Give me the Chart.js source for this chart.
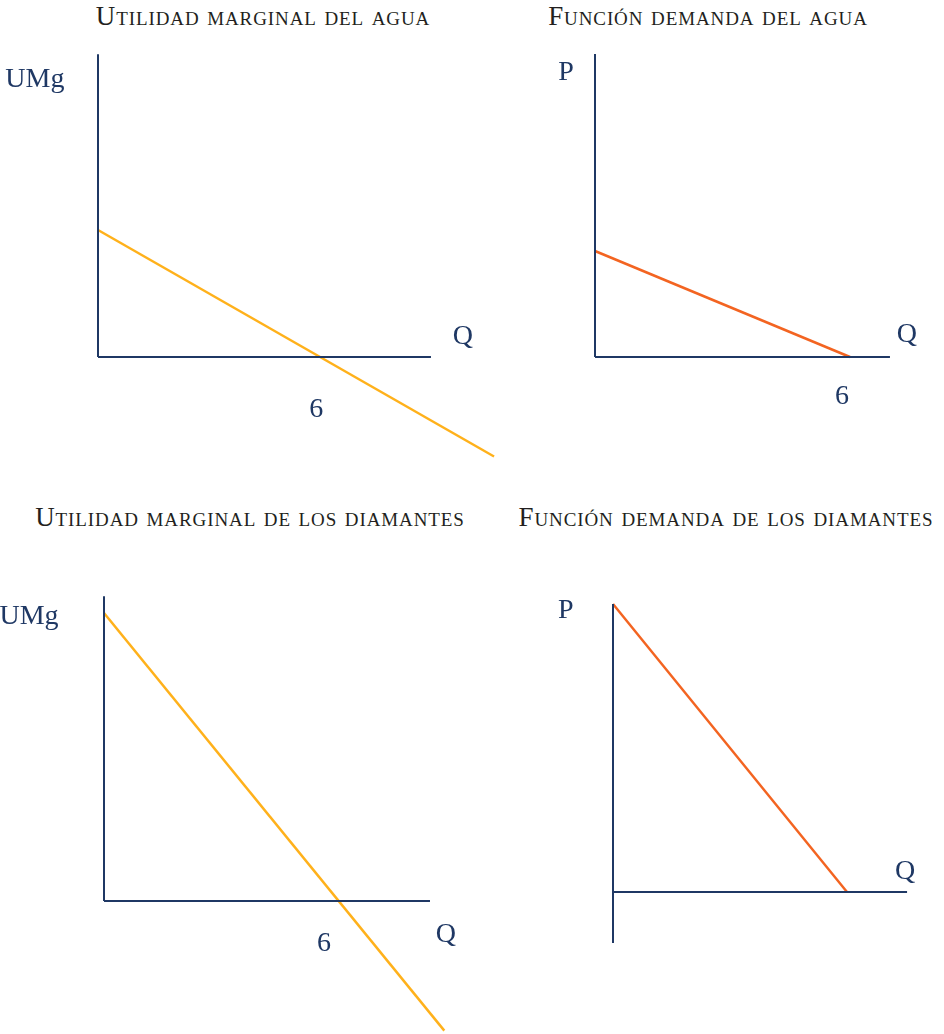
<!DOCTYPE html>
<html>
<head>
<meta charset="utf-8">
<script src="https://cdn.jsdelivr.net/npm/chart.js@4"></script>
<style>
  body { margin: 0; background: #fff; }
  #page { position: relative; width: 944px; height: 1034px; overflow: hidden; }
  canvas { position: absolute; }
  .titulo {
    position: absolute; white-space: nowrap; transform: translateX(-50%);
    font-family: "Liberation Serif", serif; font-size: 27px; line-height: 27px;
    font-variant: small-caps; letter-spacing: 0.9px; color: #231f20;
  }
</style>
</head>
<body>
<div id="page">
  <div class="titulo" style="left:263px; top:3px">Utilidad marginal del agua</div>
  <div class="titulo" style="left:708px; top:3px">Función demanda del agua</div>
  <div class="titulo" style="left:250px; top:504px">Utilidad marginal de los diamantes</div>
  <div class="titulo" style="left:726px; top:504px">Función demanda de los diamantes</div>
  <canvas id="umgAgua" width="500" height="430" style="left:0px; top:40px"></canvas>
  <canvas id="demAgua" width="444" height="420" style="left:500px; top:40px"></canvas>
  <canvas id="umgDiam" width="480" height="474" style="left:0px; top:560px"></canvas>
  <canvas id="demDiam" width="464" height="420" style="left:480px; top:560px"></canvas>
</div>
<script>
// utilidad marginal del agua
const qAgua = [0, 10.8];
const umgAgua = [6, -4.7];
// funcion demanda del agua
const qDemAgua = [0, 6];
const pAgua = [6, 0];
// utilidad marginal de los diamantes
const qDiam = [0, 8.8];
const umgDiam = [24, -10.8];
// funcion demanda de los diamantes
const qDemDiam = [0, 6];
const pDiam = [24, 0];

// axis extents: [xEnd, yTop, yBottom]
const ejesAgua = [9.08, 14.3, 0];
const ejesDemAgua = [6.94, 17.15, 0];
const ejesDiam = [8.43, 25.4, 0];
const ejesDemDiam = [7.54, 24, -4.25];

const navy = "#1f3864";
const amarillo = "#ffb11b";
const naranja = "#f36421";

// text labels drawn at data coordinates
const etiquetas = {
  id: 'etiquetas',
  afterDatasetsDraw(chart, args, opts) {
    const ctx = chart.ctx;
    ctx.save();
    ctx.fillStyle = navy;
    ctx.font = "28px 'Liberation Serif', serif";
    ctx.textAlign = 'center';
    ctx.textBaseline = 'middle';
    (opts.items || []).forEach(l => {
      ctx.fillText(l.text, chart.scales.x.getPixelForValue(l.x), chart.scales.y.getPixelForValue(l.y));
    });
    ctx.restore();
  }
};

function panel(id, box, origin, unit, qs, vs, color, ejes, labels) {
  const [l, t, w, h] = box;
  const pts = qs.map((q, i) => ({x: q, y: vs[i]}));
  new Chart(document.getElementById(id), {
    type: 'scatter',
    data: {
      datasets: [{
        data: [{x: 0, y: ejes[2]}, {x: 0, y: ejes[1]}],
        borderColor: navy, borderWidth: 2, showLine: true, pointRadius: 0
      }, {
        data: [{x: 0, y: 0}, {x: ejes[0], y: 0}],
        borderColor: navy, borderWidth: 2, showLine: true, pointRadius: 0
      }, {
        data: pts,
        borderColor: color, borderWidth: 2.5, showLine: true, pointRadius: 0
      }]
    },
    options: {
      responsive: false,
      animation: false,
      layout: { padding: 0 },
      scales: {
        x: { type: 'linear', display: false, min: (l - origin[0]) / unit[0], max: (l + w - origin[0]) / unit[0] },
        y: { type: 'linear', display: false, min: (origin[1] - t - h) / unit[1], max: (origin[1] - t) / unit[1] }
      },
      plugins: {
        legend: { display: false },
        tooltip: { enabled: false },
        etiquetas: { items: labels }
      }
    },
    plugins: [etiquetas]
  });
}

panel('umgAgua', [0, 40, 500, 430], [98, 357], [36.67, 21.17], qAgua, umgAgua, amarillo, ejesAgua,
  [{text: 'UMg', x: -1.72, y: 13.08}, {text: 'Q', x: 9.95, y: 0.94}, {text: '6', x: 5.95, y: -2.5}]);
panel('demAgua', [500, 40, 444, 420], [595, 357], [42.5, 17.67], qDemAgua, pAgua, naranja, ejesDemAgua,
  [{text: 'P', x: -0.68, y: 16.07}, {text: 'Q', x: 7.34, y: 1.25}, {text: '6', x: 5.81, y: -2.26}]);
panel('umgDiam', [0, 560, 480, 474], [104, 901], [38.67, 12], qDiam, umgDiam, amarillo, ejesDiam,
  [{text: 'UMg', x: -1.94, y: 23.67}, {text: 'Q', x: 8.84, y: -2.83}, {text: '6', x: 5.69, y: -3.58}]);
panel('demDiam', [480, 560, 464, 420], [613, 892], [39, 12], qDemDiam, pDiam, naranja, ejesDemDiam,
  [{text: 'P', x: -1.21, y: 23.42}, {text: 'Q', x: 7.49, y: 1.67}]);
</script>
</body>
</html>
